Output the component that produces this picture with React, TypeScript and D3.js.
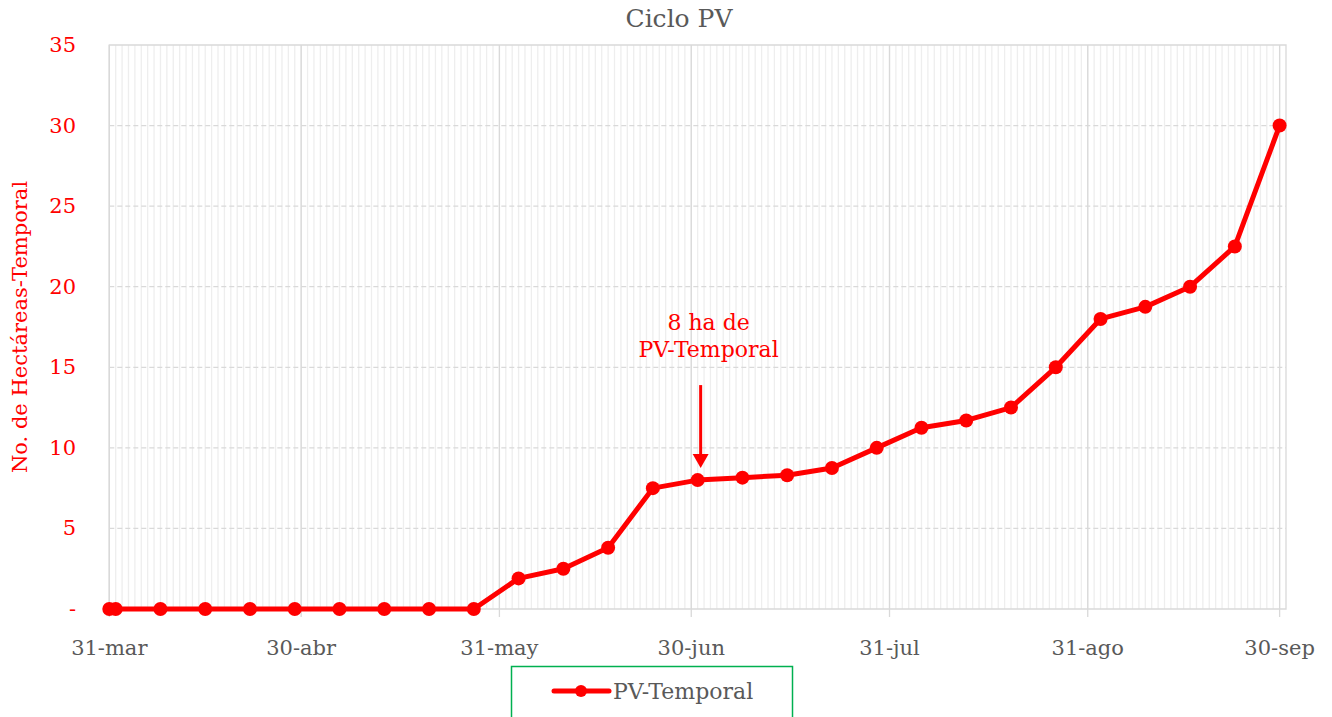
import React, { useEffect, useRef } from "react";
import * as d3 from "d3";

// semanas de registro (fecha) y hectáreas acumuladas
const fechas = [
  "2021-03-31", "2021-04-01", "2021-04-08", "2021-04-15", "2021-04-22", "2021-04-29",
  "2021-05-06", "2021-05-13", "2021-05-20", "2021-05-27", "2021-06-03", "2021-06-10",
  "2021-06-17", "2021-06-24", "2021-07-01", "2021-07-08", "2021-07-15", "2021-07-22",
  "2021-07-29", "2021-08-05", "2021-08-12", "2021-08-19", "2021-08-26", "2021-09-02",
  "2021-09-09", "2021-09-16", "2021-09-23", "2021-09-30",
];
const hectareas = [
  0, 0, 0, 0, 0, 0,
  0, 0, 0, 0, 1.9, 2.5,
  3.8, 7.5, 8, 8.15, 8.3, 8.75,
  10, 11.25, 11.7, 12.5, 15, 18,
  18.75, 20, 22.5, 30,
];
const xTicks = ["2021-03-31", "2021-04-30", "2021-05-31", "2021-06-30", "2021-07-31", "2021-08-31", "2021-09-30"];
const mesesAbr = ["ene", "feb", "mar", "abr", "may", "jun", "jul", "ago", "sep", "oct", "nov", "dic"];
const yTicks = [0, 5, 10, 15, 20, 25, 30, 35];
const serieNombre = "PV-Temporal";
const anotacion = ["8 ha de", "PV-Temporal"];
const fechaAnotada = "2021-07-01";
const valorAnotado = 8;

const FONT = "'DejaVu Serif', serif";

export default function App() {
  const svgRef = useRef<SVGSVGElement | null>(null);

  useEffect(() => {
    const width = 1332;
    const height = 717;
    const left = 109.3, right = 1286, top = 45, bottom = 609;

    const svg = d3.select(svgRef.current).attr("width", width).attr("height", height);
    svg.selectAll("*").remove();

    const parse = d3.timeParse("%Y-%m-%d");
    const data = fechas.map((f, i) => ({ date: parse(f) as Date, value: hectareas[i] }));

    const start = parse("2021-03-31") as Date;
    const end = parse("2021-10-01") as Date;
    const x = d3.scaleTime().domain([start, end]).range([left, right]);
    const y = d3.scaleLinear().domain([0, 35]).range([bottom, top]);

    svg.append("rect").attr("width", width).attr("height", height).attr("fill", "#fff");

    // gridlines diarias
    svg.append("g")
      .selectAll("line")
      .data(d3.timeDay.range(start, end))
      .enter()
      .append("line")
      .attr("x1", d => x(d)).attr("x2", d => x(d))
      .attr("y1", top).attr("y2", bottom)
      .attr("stroke", "#eeeeee")
      .attr("stroke-width", 1.3);

    // horizontales punteadas
    svg.append("g")
      .selectAll("line")
      .data(yTicks.filter(t => t > 0 && t < 35))
      .enter()
      .append("line")
      .attr("x1", left).attr("x2", right)
      .attr("y1", d => y(d)).attr("y2", d => y(d))
      .attr("stroke", "#d9d9d9")
      .attr("stroke-width", 1.3)
      .attr("stroke-dasharray", "5,3");

    // gridlines mensuales
    const majors = xTicks.map(t => parse(t) as Date);
    svg.append("g")
      .selectAll("line")
      .data(majors)
      .enter()
      .append("line")
      .attr("x1", d => x(d)).attr("x2", d => x(d))
      .attr("y1", top).attr("y2", bottom + 8)
      .attr("stroke", "#d9d9d9")
      .attr("stroke-width", 1.3);

    // marco
    svg.append("path")
      .attr("d", `M${left},${bottom}V${top}H${right}V${bottom}H${left}`)
      .attr("fill", "none")
      .attr("stroke", "#d9d9d9")
      .attr("stroke-width", 1.3);

    // etiquetas eje x
    svg.append("g")
      .selectAll("text")
      .data(majors)
      .enter()
      .append("text")
      .attr("x", d => x(d))
      .attr("y", 655)
      .attr("text-anchor", "middle")
      .attr("fill", "#595959")
      .style("font-family", FONT)
      .style("font-size", "21px")
      .text(d => `${d.getDate()}-${mesesAbr[d.getMonth()]}`);

    // etiquetas eje y
    svg.append("g")
      .selectAll("text")
      .data(yTicks)
      .enter()
      .append("text")
      .attr("x", 76)
      .attr("y", d => y(d) + 7)
      .attr("text-anchor", "end")
      .attr("fill", "#ff0000")
      .style("font-family", FONT)
      .style("font-size", "21px")
      .text(d => (d === 0 ? "-" : String(d)));

    svg.append("text")
      .attr("transform", `translate(27,327) rotate(-90)`)
      .attr("text-anchor", "middle")
      .attr("fill", "#ff0000")
      .style("font-family", FONT)
      .style("font-size", "21px")
      .text("No. de Hectáreas-Temporal");

    svg.append("text")
      .attr("x", 679)
      .attr("y", 27)
      .attr("text-anchor", "middle")
      .attr("fill", "#595959")
      .style("font-family", FONT)
      .style("font-size", "25px")
      .text("Ciclo PV");

    // serie
    const line = d3.line<{ date: Date; value: number }>()
      .x(d => x(d.date))
      .y(d => y(d.value));

    svg.append("path")
      .datum(data)
      .attr("fill", "none")
      .attr("stroke", "#ff0000")
      .attr("stroke-width", 5)
      .attr("stroke-linejoin", "round")
      .attr("d", line);

    svg.append("g")
      .selectAll("circle")
      .data(data)
      .enter()
      .append("circle")
      .attr("cx", d => x(d.date))
      .attr("cy", d => y(d.value))
      .attr("r", 7)
      .attr("fill", "#ff0000");

    // anotación
    const ax = x(parse(fechaAnotada) as Date) + 3;
    const ay = y(valorAnotado);
    svg.append("line")
      .attr("x1", ax).attr("x2", ax)
      .attr("y1", ay - 95).attr("y2", ay - 22)
      .attr("stroke", "#ff0000")
      .attr("stroke-width", 3);
    svg.append("path")
      .attr("d", `M${ax - 8},${ay - 26}L${ax + 8},${ay - 26}L${ax},${ay - 12}Z`)
      .attr("fill", "#ff0000");
    anotacion.forEach((t, i) => {
      svg.append("text")
        .attr("x", ax + 8)
        .attr("y", ay - 150 + i * 27)
        .attr("text-anchor", "middle")
        .attr("fill", "#ff0000")
        .style("font-family", FONT)
        .style("font-size", "22px")
        .text(t);
    });

    // leyenda
    svg.append("rect")
      .attr("x", 511.5).attr("y", 666.5)
      .attr("width", 281).attr("height", 60)
      .attr("fill", "none")
      .attr("stroke", "#00b050")
      .attr("stroke-width", 1.5);
    svg.append("line")
      .attr("x1", 554).attr("x2", 609)
      .attr("y1", 691).attr("y2", 691)
      .attr("stroke", "#ff0000")
      .attr("stroke-width", 5)
      .attr("stroke-linecap", "round");
    svg.append("circle").attr("cx", 581).attr("cy", 691).attr("r", 6).attr("fill", "#ff0000");
    svg.append("text")
      .attr("x", 613)
      .attr("y", 699)
      .attr("fill", "#595959")
      .style("font-family", FONT)
      .style("font-size", "22px")
      .text(serieNombre);
  }, []);

  return (
    <svg ref={svgRef} style={{ position: "absolute", left: 0, top: 0, display: "block" }}></svg>
  );
}
